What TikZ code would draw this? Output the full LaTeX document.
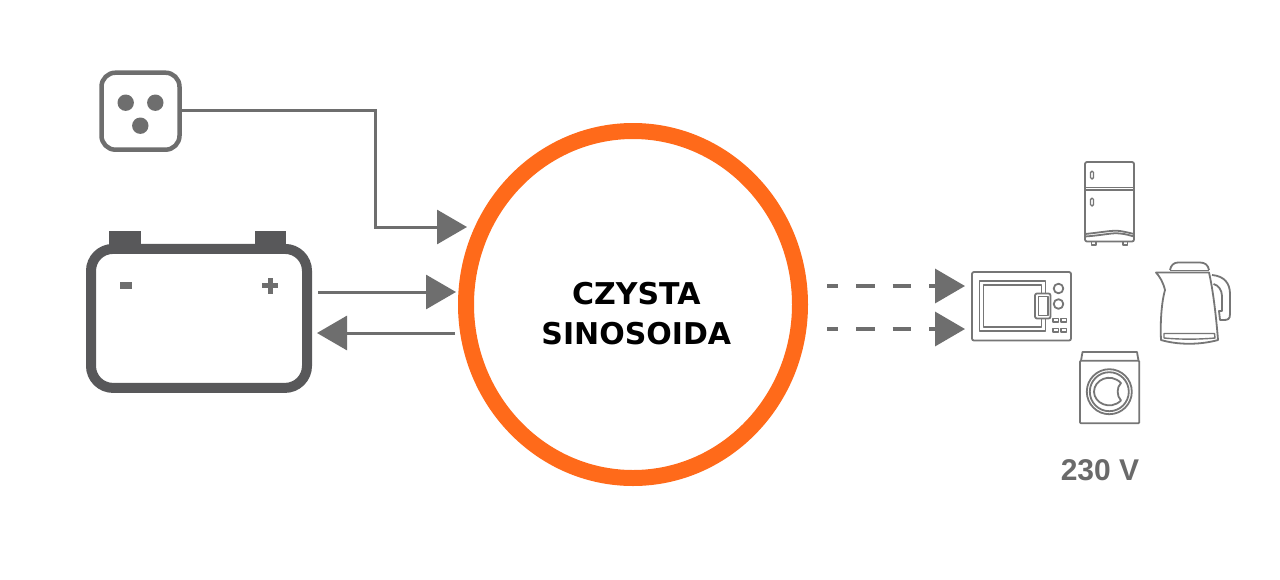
\documentclass[tikz,border=0pt]{standalone}
\usepackage{fontspec}
\setmainfont{Liberation Sans}
\newfontfamily\titlefont{DejaVu Sans}
\usetikzlibrary{arrows.meta,shapes.geometric}
\definecolor{lineg}{HTML}{6E6E6E}
\definecolor{batg}{HTML}{58585A}
\definecolor{appg}{HTML}{767676}
\definecolor{orng}{HTML}{FF6A1A}
\tikzset{
  conn/.style={draw=lineg,line width=3pt,-{Triangle[length=30pt,width=34pt,fill=lineg]}},
  dashconn/.style={conn,line width=3.5pt,dash pattern=on 18.5pt off 18pt,dash phase=7.5pt},
  app/.style={draw=appg,line width=1.8pt,line join=round,fill=none},
  appthin/.style={draw=appg,line width=1.4pt,line join=round,fill=none},
  bat/.style={draw=batg,fill=white,line width=10pt,rounded corners=22pt,minimum width=216pt,minimum height=139pt,inner sep=0pt},
  sock/.style={draw=lineg,fill=white,line width=4.5pt,rounded corners=14pt,minimum width=78pt,minimum height=77pt,inner sep=0pt},
  ringn/.style={ellipse,draw=orng,fill=white,line width=16pt,minimum width=334pt,minimum height=347pt,inner sep=0pt},
  dot/.style={fill=lineg,draw=none}
}
\begin{document}
\begin{tikzpicture}[x=1pt,y=-1pt]
\useasboundingbox (0,0) rectangle (1280,579);
\fill[white] (0,0) rectangle (1280,579);
% terminals
\fill[batg] (109,231) rectangle (141,250);
\fill[batg] (254.7,230.5) rectangle (286,250);
\node[bat] (battery) at (199,318.4) {};
\fill[lineg] (120,282) rectangle (132,289);
\fill[lineg] (262.3,283) rectangle (278.3,288);
\fill[lineg] (267.8,277.5) rectangle (272.8,293.5);
% socket
\node[sock] (socket) at (140.5,111.2) {};
\fill[dot] (125.7,102.7) circle (8.2);
\fill[dot] (155.3,102.7) circle (8.2);
\fill[dot] (140.3,125.7) circle (8.2);
% ring
\node[ringn] (ring) at (633,304.5) {};
\node[font=\titlefont\bfseries\fontsize{30}{40}\selectfont,text=black,align=center,inner sep=0pt,anchor=base] (title) at (636.3,344.5) {CZYSTA\\SINOSOIDA};
% free ends
\coordinate (bend1) at (375,110);
\coordinate (in1) at (467,227);
\coordinate (bo) at (318,292);
\coordinate (in2) at (456,292);
\coordinate (out2) at (455,333);
\coordinate (bi) at (317,333);
\coordinate (o1) at (827,286);
\coordinate (o2) at (827,329);
\coordinate (m1) at (965,286);
\coordinate (m2) at (965,329);
\draw[conn] (socket.east |- bend1) -- (bend1) |- (in1);
\draw[conn] (bo) -- (in2);
\draw[conn] (out2) -- (bi);
\draw[dashconn] (o1) -- (m1);
\draw[dashconn] (o2) -- (m2);
% fridge
\draw[app,rounded corners=2pt] (1085,162) rectangle (1134,241.5);
\draw[app] (1085,187.5) -- (1134,187.5) (1085,190) -- (1134,190);
\draw[appthin,rounded corners=1.5pt] (1090.5,171) rectangle (1093.5,179);
\draw[appthin,rounded corners=1.5pt] (1090.5,198) rectangle (1093.5,206);
\draw[app] (1085,234) .. controls (1105,232) and (1112,230) .. (1120,231) .. controls (1126,232) and (1130,233) .. (1134,234);
\draw[app] (1085,236.5) .. controls (1105,235) and (1112,232.5) .. (1120,233.5) .. controls (1126,234) and (1130,235.5) .. (1134,236.5);
\draw[appthin] (1091.5,242) -- (1091.5,245) -- (1096,245) -- (1096,242);
\draw[appthin] (1123,242) -- (1123,245) -- (1127.5,245) -- (1127.5,242);
% kettle
\draw[app] (1170,270) .. controls (1171,265) and (1174,262.5) .. (1178,262.5) -- (1200,262.5) .. controls (1205,262.5) and (1208,265) .. (1209,270);
\draw[app] (1170,270.5) -- (1209,270.5);
\draw[app] (1156,272.5) -- (1209,272.5) .. controls (1213,290) and (1216,315) .. (1218,340) .. controls (1200,345) and (1178,345) .. (1161,340) .. controls (1160,320) and (1162,300) .. (1165,290) .. controls (1163,282) and (1160,277) .. (1156,272.5) -- cycle;
\draw[appthin] (1164,333.5) -- (1214.5,333.5) -- (1215,338) .. controls (1198,339.5) and (1180,339.5) .. (1164,338) -- cycle;
\draw[app] (1212,275) .. controls (1224,276) and (1230,283) .. (1230,294) -- (1230,314) .. controls (1230,319) and (1228,320) .. (1224,320) -- (1220,320) -- (1219,311) -- (1222,311) -- (1222,296) .. controls (1222,290) and (1218,285) .. (1213.5,284);
% microwave
\draw[app,rounded corners=2pt] (972,272) rectangle (1071,340.5);
\draw[app] (1045.5,293) -- (1045.5,281) -- (979.5,281) -- (979.5,331) -- (1045.5,331) -- (1045.5,319);
\draw[app] (1041.5,293) -- (1041.5,285) -- (983.5,285) -- (983.5,327) -- (1041.5,327) -- (1041.5,319);
\draw[app,rounded corners=2pt] (1035,293.5) rectangle (1050.5,318.5);
\draw[app] (1038.5,296.5) rectangle (1048,315.5);
\draw[app] (1058.5,288.5) circle (4.8);
\draw[app] (1058.5,304) circle (4.8);
\foreach \yy in {318.5,328.5}{
  \draw[appthin] (1053,\yy) rectangle (1058.5,\yy+3.5);
  \draw[appthin] (1061,\yy) rectangle (1066.5,\yy+3.5);
}
% washer
\draw[app,rounded corners=1pt] (1080,360.7) rectangle (1139.3,423.3);
\draw[app] (1081,360.7) -- (1082.5,352) -- (1137,352) -- (1138.5,360.7);
\draw[app] (1109.3,391.7) circle (22.5);
\draw[app] (1109.3,391.7) circle (19.5);
\draw[app] (1121,383) .. controls (1116.5,387) and (1116.5,396) .. (1121,400.5) .. controls (1110,411) and (1094,403) .. (1094,391.7) .. controls (1094,380) and (1110,372) .. (1121,383) -- cycle;
% label
\node[text=appg!90!black,font=\bfseries\fontsize{30}{32}\selectfont,inner sep=0pt] (vlabel) at (1100,470) {230 V};
\end{tikzpicture}
\end{document}
